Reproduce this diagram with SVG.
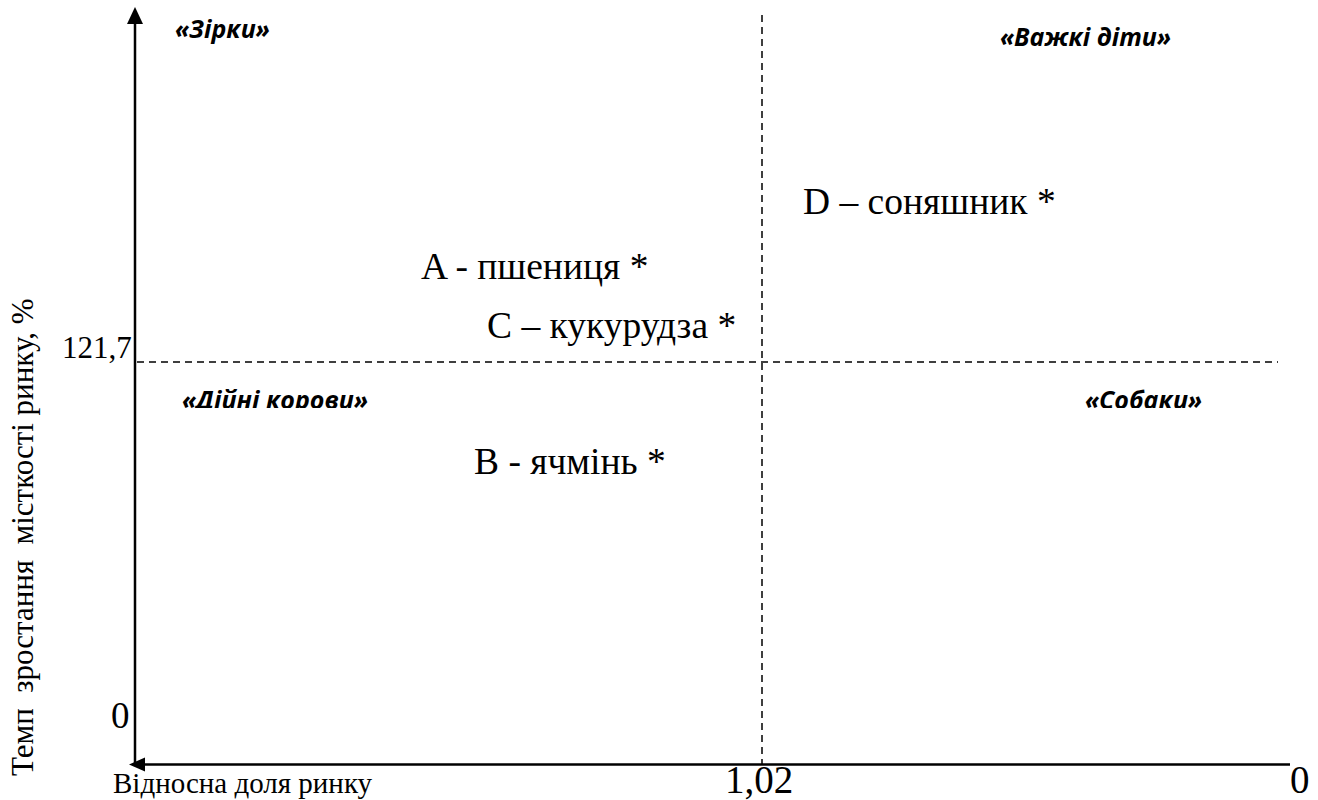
<svg xmlns="http://www.w3.org/2000/svg" width="1318" height="800" viewBox="0 0 1318 800">
<style>
.serif{font-family:"Liberation Serif","Times New Roman",serif;fill:#000}
.node{font-size:37.5px}
.q{font-family:"Open Sans","Noto Sans",sans-serif;font-weight:bold;font-style:italic;font-size:25px;fill:#000}
.axis{stroke:#000;stroke-width:2.5;fill:none}
.dash{stroke:#000;stroke-width:1.5;stroke-dasharray:7,5;fill:none}
</style>
<defs>
<clipPath id="lowclip"><rect x="0" y="0" width="1318" height="408"/></clipPath>
</defs>
<g id="connectors">
<path class="dash" d="M137,362 H1278"/>
<path class="dash" d="M762,15 V764"/>
<line class="axis" x1="135" y1="765" x2="135" y2="24"/>
<path d="M127,24 L135,7 L143,24 Z" fill="#000"/>
<line class="axis" x1="1290" y1="764.5" x2="145" y2="764.5"/>
<path d="M145,757.5 L129,764.5 L145,771.5 Z" fill="#000"/>
</g>
<g id="labels">
<text class="q" x="175" y="38">«Зірки»</text>
<text class="q" x="1000" y="46">«Важкі діти»</text>
<g clip-path="url(#lowclip)">
<text class="q" x="182" y="409">«Дійні корови»</text>
<text class="q" x="1085" y="409">«Собаки»</text>
</g>
</g>
<g id="node-D"><text class="serif node" x="803" y="214">D – соняшник *</text></g>
<g id="node-A"><text class="serif node" x="421" y="279">A - пшениця *</text></g>
<g id="node-C"><text class="serif node" x="487" y="338">C – кукурудза *</text></g>
<g id="node-B"><text class="serif node" x="474" y="474">B - ячмінь *</text></g>
<g id="ticks">
<text class="serif" x="62" y="358" font-size="31">121,7</text>
<text class="serif" x="111" y="728" font-size="37">0</text>
<text class="serif" x="113" y="793" font-size="29">Відносна доля ринку</text>
<text class="serif" x="725" y="793" font-size="39">1,02</text>
<text class="serif" x="1290" y="793" font-size="39">0</text>
<text class="serif" font-size="31" transform="translate(33,776) rotate(-90)" xml:space="preserve">Темп  зростання  місткості ринку, %</text>
</g>
</svg>
